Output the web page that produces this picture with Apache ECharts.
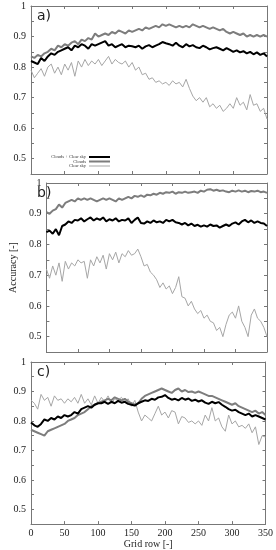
<!DOCTYPE html>
<html><head><meta charset="utf-8">
<script src="https://cdn.jsdelivr.net/npm/echarts@6/dist/echarts.min.js"></script>
<style>html,body{margin:0;padding:0;background:#fff}#c{width:276px;height:550px}</style>
</head><body><div id="c"></div>
<script>
const rows = [0,5,10,15,20,25,30,35,40,45,50,55,60,65,70,75,80,85,90,95,100,105,110,115,120,125,130,135,140,145,150,155,160,165,170,175,180,185,190,195,200,205,210,215,220,225,230,235,240,245,250,255,260,265,270,275,280,285,290,295,300,305,310,315,320,325,330,335,340,345,350];
const xTicks = [0,50,100,150,200,250,300,350];
const yTickLabels = [0.5,0.6,0.7,0.8,0.9,1];
const seriesNames = ['Clouds + Clear sky','Clouds','Clear sky'];
const panelLabels = ['a)','b)','c)'];

// panel a
const aAll = [0.82,0.815,0.81,0.83,0.82,0.835,0.845,0.84,0.85,0.855,0.86,
 0.865,0.855,0.87,0.865,0.875,0.87,0.86,0.875,0.87,0.875,
 0.88,0.885,0.87,0.875,0.865,0.87,0.875,0.865,0.87,0.868,
 0.865,0.87,0.86,0.868,0.872,0.865,0.87,0.875,0.882,0.878,
 0.875,0.87,0.88,0.87,0.865,0.875,0.868,0.872,0.865,0.862,
 0.87,0.865,0.858,0.862,0.865,0.86,0.855,0.862,0.856,0.85,
 0.855,0.848,0.852,0.845,0.85,0.842,0.848,0.84,0.845,0.835];
const aClouds = [0.835,0.83,0.84,0.835,0.845,0.85,0.86,0.855,0.87,0.865,0.875,
 0.87,0.88,0.885,0.875,0.89,0.885,0.895,0.89,0.91,0.90,
 0.905,0.91,0.905,0.915,0.91,0.92,0.915,0.91,0.92,0.915,
 0.92,0.925,0.92,0.93,0.925,0.93,0.935,0.93,0.94,0.935,
 0.94,0.935,0.93,0.935,0.93,0.935,0.93,0.94,0.935,0.93,
 0.935,0.93,0.925,0.93,0.925,0.92,0.925,0.915,0.91,0.915,
 0.91,0.905,0.91,0.9,0.905,0.9,0.905,0.9,0.905,0.9];
const aClear = [0.79,0.765,0.78,0.795,0.77,0.80,0.81,0.78,0.80,0.775,0.81,
 0.79,0.815,0.77,0.82,0.80,0.825,0.805,0.82,0.81,0.825,
 0.805,0.82,0.835,0.81,0.825,0.815,0.81,0.82,0.80,0.815,
 0.79,0.80,0.775,0.78,0.76,0.765,0.75,0.755,0.745,0.75,
 0.74,0.755,0.745,0.75,0.735,0.76,0.73,0.705,0.69,0.70,
 0.685,0.70,0.67,0.68,0.665,0.675,0.655,0.665,0.68,0.665,
 0.70,0.675,0.685,0.66,0.71,0.675,0.68,0.655,0.665,0.63];

// panel b
const bAll = [0.84,0.845,0.835,0.85,0.83,0.86,0.865,0.875,0.87,0.88,0.878,
 0.885,0.875,0.882,0.888,0.878,0.885,0.88,0.888,0.875,0.882,
 0.878,0.885,0.875,0.88,0.878,0.885,0.87,0.88,0.888,0.87,
 0.868,0.875,0.87,0.878,0.872,0.875,0.87,0.88,0.875,0.88,
 0.872,0.87,0.865,0.87,0.862,0.868,0.86,0.864,0.858,0.862,
 0.858,0.865,0.86,0.862,0.855,0.86,0.865,0.86,0.868,0.872,
 0.865,0.875,0.88,0.872,0.878,0.87,0.875,0.87,0.868,0.86];
const bClouds = [0.905,0.90,0.91,0.915,0.93,0.92,0.935,0.94,0.945,0.94,0.95,
 0.945,0.95,0.945,0.95,0.945,0.94,0.945,0.95,0.945,0.95,
 0.945,0.94,0.95,0.945,0.95,0.955,0.95,0.958,0.955,0.96,
 0.955,0.962,0.96,0.965,0.962,0.968,0.965,0.97,0.968,0.972,
 0.965,0.97,0.968,0.972,0.968,0.97,0.972,0.968,0.975,0.972,
 0.978,0.98,0.975,0.978,0.974,0.976,0.972,0.97,0.975,0.972,
 0.976,0.972,0.975,0.97,0.974,0.972,0.975,0.97,0.972,0.968];
const bClear = [0.72,0.69,0.73,0.70,0.74,0.68,0.745,0.72,0.74,0.73,0.75,
 0.74,0.745,0.69,0.75,0.73,0.76,0.74,0.765,0.72,0.77,
 0.75,0.775,0.74,0.77,0.76,0.78,0.765,0.77,0.785,0.76,
 0.73,0.735,0.71,0.70,0.685,0.66,0.675,0.655,0.665,0.64,
 0.66,0.695,0.63,0.625,0.60,0.615,0.59,0.575,0.585,0.56,
 0.57,0.55,0.545,0.52,0.53,0.50,0.54,0.57,0.58,0.56,
 0.60,0.55,0.53,0.50,0.57,0.59,0.56,0.55,0.53,0.50];

// panel c
const cAll = [0.795,0.785,0.78,0.79,0.805,0.80,0.81,0.805,0.815,0.81,0.82,
 0.815,0.82,0.83,0.825,0.84,0.845,0.85,0.845,0.855,0.86,
 0.86,0.865,0.858,0.865,0.86,0.868,0.862,0.865,0.858,0.855,
 0.852,0.86,0.865,0.87,0.868,0.875,0.872,0.88,0.882,0.888,
 0.878,0.872,0.875,0.87,0.878,0.872,0.876,0.868,0.872,0.866,
 0.87,0.862,0.858,0.865,0.86,0.864,0.855,0.848,0.84,0.835,
 0.838,0.83,0.825,0.82,0.825,0.815,0.82,0.815,0.81,0.805];
const cClouds = [0.77,0.765,0.76,0.755,0.75,0.765,0.77,0.775,0.78,0.785,0.79,
 0.80,0.805,0.81,0.82,0.825,0.83,0.84,0.85,0.855,0.86,
 0.865,0.87,0.875,0.87,0.88,0.875,0.87,0.875,0.865,0.86,
 0.855,0.86,0.875,0.885,0.89,0.895,0.90,0.905,0.91,0.905,
 0.90,0.895,0.905,0.91,0.90,0.905,0.898,0.90,0.895,0.90,
 0.895,0.89,0.885,0.885,0.88,0.875,0.87,0.865,0.86,0.855,
 0.86,0.85,0.845,0.84,0.835,0.83,0.835,0.825,0.83,0.82];
const cClear = [0.87,0.86,0.84,0.89,0.87,0.88,0.85,0.885,0.87,0.875,0.86,
 0.875,0.865,0.88,0.86,0.89,0.86,0.875,0.855,0.885,0.86,
 0.88,0.865,0.885,0.86,0.875,0.87,0.88,0.865,0.875,0.85,
 0.87,0.83,0.80,0.82,0.81,0.80,0.825,0.85,0.82,0.83,
 0.81,0.835,0.83,0.79,0.815,0.81,0.795,0.80,0.79,0.80,
 0.785,0.82,0.80,0.845,0.80,0.81,0.78,0.765,0.82,0.79,
 0.80,0.78,0.785,0.775,0.79,0.76,0.78,0.72,0.75,0.745];

const panels = [[aAll,aClouds,aClear],[bAll,bClouds,bClear],[cAll,cClouds,cClear]];

const chart = echarts.init(document.getElementById('c'), null, {renderer:'canvas'});
const FONT = '"Liberation Serif", "DejaVu Serif", serif';
const frame = '#777';
const gridPos = [{top:6,height:168},{top:183,height:169},{top:362,height:166}];
const grids = gridPos.map(g => ({left:31, right:9, top:g.top, height:g.height, show:false}));

const xAxes = [], yAxes = [], series = [];
const lineStyles = [
  {color:'#000000', width:2},
  {color:'#7d7d7d', width:2},
  {color:'#a6a6a6', width:1}
];
for (let p = 0; p < 3; p++) {
  const last = p === 2;
  xAxes.push({
    type:'value', gridIndex:p, min:0, max:350, interval:50, position:'bottom',
    axisLine:{show:true, onZero:false, lineStyle:{color:frame, width:1}},
    axisTick:{show:true, inside:true, length:3, lineStyle:{color:frame}},
    axisLabel:{show:last, color:'#222', fontFamily:FONT, fontSize:10, margin:4,
      formatter: v => xTicks.indexOf(v) >= 0 ? String(v) : ''},
    splitLine:{show:false},
    name: last ? 'Grid row [-]' : '', nameLocation:'middle', nameGap:14,
    nameTextStyle:{color:'#222', fontFamily:FONT, fontSize:10}
  });
  xAxes.push({
    type:'value', gridIndex:p, min:0, max:350, interval:50, position:'top',
    axisLine:{show:true, onZero:false, lineStyle:{color:frame, width:1}},
    axisTick:{show:true, inside:true, length:3, lineStyle:{color:frame}},
    axisLabel:{show:false}, splitLine:{show:false}
  });
  yAxes.push({
    type:'value', gridIndex:p, min:0.45, max:1, interval:0.05, position:'left',
    axisLine:{show:true, onZero:false, lineStyle:{color:frame, width:1}},
    axisTick:{show:true, inside:true, length:3, lineStyle:{color:frame}},
    axisLabel:{show:true, color:'#222', fontFamily:FONT, fontSize:10, margin:5,
      formatter: v => {
        const r = Math.round(v*100)/100;
        return yTickLabels.indexOf(r) >= 0 ? String(r) : '';
      }},
    splitLine:{show:false},
    name: p === 1 ? 'Accuracy [-]' : '', nameLocation:'middle', nameGap:21,
    nameTextStyle:{color:'#222', fontFamily:FONT, fontSize:10}
  });
  yAxes.push({
    type:'value', gridIndex:p, min:0.45, max:1, interval:0.05, position:'right',
    axisLine:{show:true, onZero:false, lineStyle:{color:frame, width:1}},
    axisTick:{show:true, inside:true, length:3, lineStyle:{color:frame}},
    axisLabel:{show:false}, splitLine:{show:false}
  });
  const order = [2,1,0];
  order.forEach(s => {
    series.push({
      type:'line', name:seriesNames[s], xAxisIndex:p*2, yAxisIndex:p*2,
      data: rows.map((r,i) => [r, panels[p][s][i]]),
      showSymbol:false, symbol:'none', animation:false,
      lineStyle:lineStyles[s], z: 3 - s
    });
  });
}

const graphics = [];
gridPos.forEach((g, i) => {
  graphics.push({type:'text', left:37, top:g.top+3,
    style:{text:panelLabels[i], font:'14px "DejaVu Sans", sans-serif', fill:'#222'}});
});
// legend of panel a
const legY = [157, 161.5, 166];
const legW = [2, 2, 1];
seriesNames.forEach((n, i) => {
  graphics.push({type:'text', x:86, y:legY[i],
    style:{text:n, font:'4.5px "Liberation Serif", serif', fill:'#333', align:'right', verticalAlign:'middle'}});
  graphics.push({type:'line', shape:{x1:89, y1:legY[i], x2:110, y2:legY[i]},
    style:{stroke:lineStyles[i].color, lineWidth:legW[i]}});
});

chart.setOption({
  animation:false,
  backgroundColor:'#ffffff',
  grid:grids, xAxis:xAxes, yAxis:yAxes, series:series,
  graphic:graphics
});
</script></body></html>
